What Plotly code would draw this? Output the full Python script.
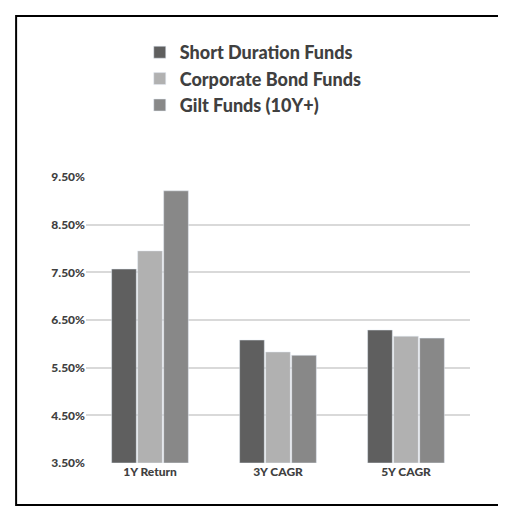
import plotly.graph_objects as go

categories = ["1Y Return", "3Y CAGR", "5Y CAGR"]
short_duration = [7.57, 6.08, 6.29]
corporate_bond = [7.95, 5.83, 6.16]
gilt_10y = [9.21, 5.76, 6.12]
tick_vals = [3.5, 4.5, 5.5, 6.5, 7.5, 8.5, 9.5]
tick_text = ["3.50%", "4.50%", "5.50%", "6.50%", "7.50%", "8.50%", "9.50%"]

fig = go.Figure()
for name, vals, col in [("Short Duration Funds", short_duration, "#5f5f5f"),
                        ("Corporate Bond Funds", corporate_bond, "#b1b1b1"),
                        ("Gilt Funds (10Y+)", gilt_10y, "#888888")]:
    fig.add_trace(go.Bar(name=name, x=categories, y=[v - 3.5 for v in vals],
                         base=3.5, marker_color=col))

fig.update_layout(
    width=506, height=510, paper_bgcolor="white", plot_bgcolor="white",
    margin=dict(l=78, r=44, t=169, b=55, autoexpand=False),
    barmode="group", bargap=0.39, bargroupgap=0.05,
    font=dict(family="Lato", color="#595959"),
    legend=dict(x=0.14, y=1.5, xanchor="left", yanchor="top", orientation="v",
                font=dict(size=18, color="#404040", family="Lato Black"),
                tracegroupgap=10, itemwidth=30),
    xaxis=dict(showline=False, tickfont=dict(size=12, color="#404040", family="Lato Black")),
    yaxis=dict(range=[3.5, 9.5], tickvals=tick_vals, ticktext=tick_text,
               showgrid=True, gridcolor="#d9d9d9", gridwidth=1.5, zeroline=False,
               tickfont=dict(size=12, color="#404040", family="Lato Black")),
    shapes=[dict(type="rect", xref="paper", yref="paper", x0=-0.182, x1=1.078,
                 y0=-0.147, y1=1.563, line=dict(color="black", width=2))],
)
fig.write_html("out.html")
